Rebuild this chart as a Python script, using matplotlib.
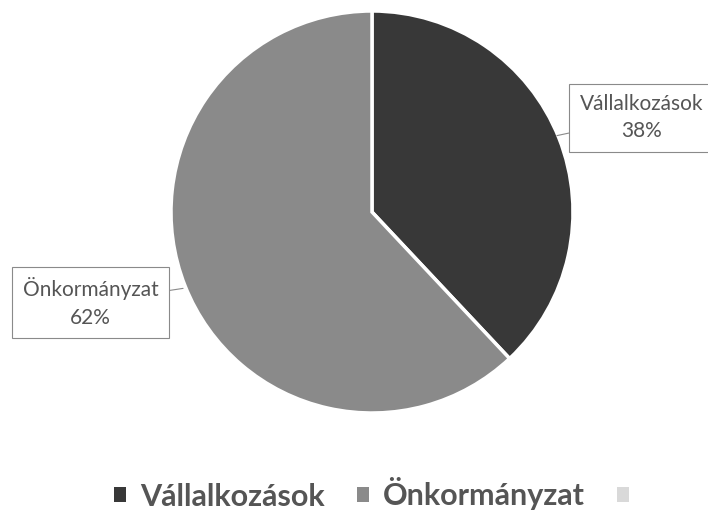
import matplotlib
matplotlib.use("Agg")
import matplotlib.pyplot as plt
from matplotlib.patches import Patch

# adatok
categories = ["Vállalkozások", "Önkormányzat", ""]
shares = [38, 62, 0]
colors = ["#383838", "#8a8a8a", "#d9d9d9"]

plt.rcParams["font.family"] = ["Lato", "DejaVu Sans"]

fig = plt.figure(figsize=(7.08, 5.21), dpi=100)
ax = fig.add_axes([(372 - 201) / 708, 1 - (212 + 201) / 521, 402 / 708, 402 / 521])

vals = [v for v in shares if v > 0]
cols = [c for v, c in zip(shares, colors) if v > 0]
wedges, _ = ax.pie(vals, colors=cols, startangle=90, counterclock=False,
                   wedgeprops=dict(edgecolor="white", linewidth=2.5))
ax.set_xlim(-1, 1)
ax.set_ylim(-1, 1)
ax.set_aspect("equal")
ax.axis("off")

box = dict(boxstyle="square,pad=0.5", fc="white", ec="#8a8a8a", lw=0.8)
arrow = dict(arrowstyle="-", color="#8a8a8a", lw=0.8, shrinkA=0, shrinkB=0)

# címkék
ax.annotate(f"{categories[0]}\n{shares[0]}%", xy=(0.92, 0.38), xytext=(1.34, 0.47),
            ha="center", va="center", fontsize=15, color="#555555",
            linespacing=1.45, bbox=box, arrowprops=arrow, annotation_clip=False)
ax.annotate(f"{categories[1]}\n{shares[1]}%", xy=(-0.94, -0.38), xytext=(-1.40, -0.45),
            ha="center", va="center", fontsize=15, color="#555555",
            linespacing=1.45, bbox=box, arrowprops=arrow, annotation_clip=False)

handles = [Patch(facecolor=c, edgecolor="none") for c in colors]
fig.legend(handles, categories, loc="center", bbox_to_anchor=(0.535, 1 - 494 / 521),
           ncol=3, frameon=False, prop=dict(weight="bold", size=22),
           labelcolor="#555555", handlelength=0.38, handleheight=0.38,
           handletextpad=0.47, columnspacing=1.05)

fig.savefig("out.png", dpi=100)
plt.close(fig)
